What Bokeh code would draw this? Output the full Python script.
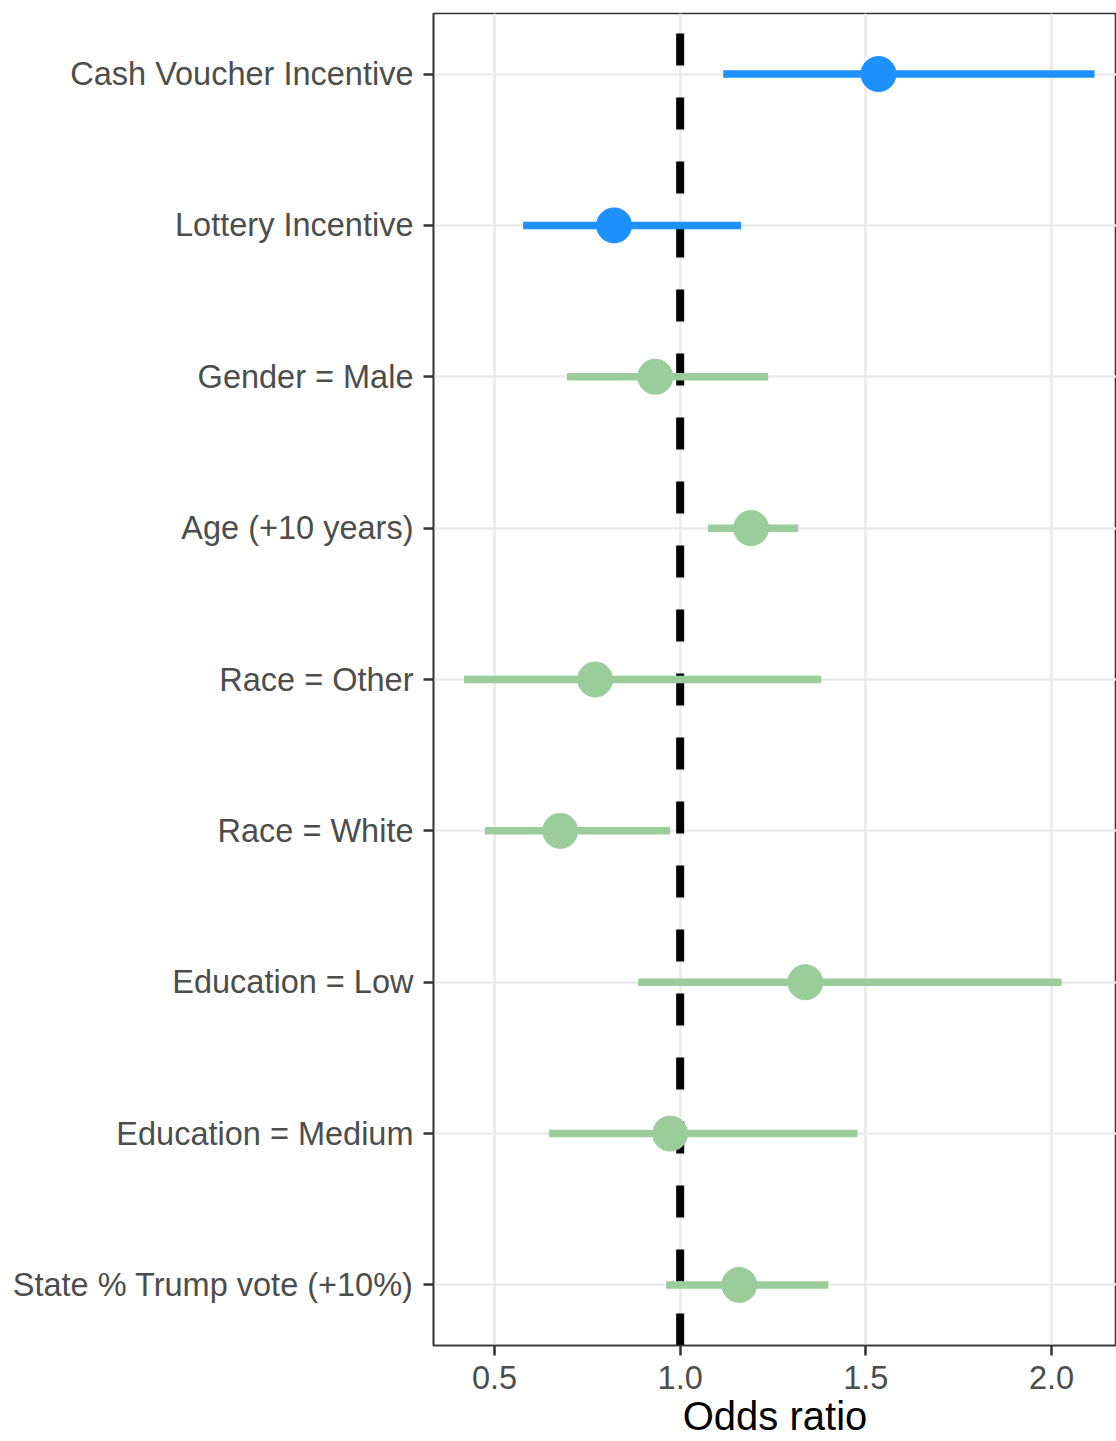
from bokeh.plotting import figure
from bokeh.models import Range1d, FixedTicker, ColumnDataSource
from bokeh.embed import file_html
from bokeh.resources import INLINE

# Data (top to bottom as shown)
terms = ["Cash Voucher Incentive", "Lottery Incentive", "Gender = Male", "Age (+10 years)",
         "Race = Other", "Race = White", "Education = Low", "Education = Medium",
         "State % Trump vote (+10%)"]
odds = [1.534, 0.822, 0.933, 1.191, 0.771, 0.677, 1.337, 0.973, 1.159]
ci_low = [1.116, 0.577, 0.695, 1.075, 0.418, 0.474, 0.887, 0.647, 0.962]
ci_high = [2.116, 1.164, 1.237, 1.318, 1.380, 0.973, 2.027, 1.477, 1.399]
group = ["Incentive", "Incentive", "Covariate", "Covariate", "Covariate", "Covariate",
         "Covariate", "Covariate", "Covariate"]
x_ticks = [0.5, 1.0, 1.5, 2.0]
ref_value = 1.0

colors = {"Incentive": "#1E90FF", "Covariate": "#9BCD9B"}
n = len(terms)
ypos = [n - i for i in range(n)]

src = ColumnDataSource(dict(y=ypos, odds=odds, lo=ci_low, hi=ci_high,
                            color=[colors[g] for g in group]))

y_start, y_end = 0.6, n + 0.4
p = figure(width=1116, height=1441, output_backend="svg", toolbar_location=None,
           x_range=Range1d(0.3357, 2.175), y_range=Range1d(y_start, y_end),
           min_border_left=433, min_border_right=0, min_border_top=13, min_border_bottom=96)

p.background_fill_color = "white"
p.outline_line_color = "#333333"
p.outline_line_width = 1.6

# grids
p.xgrid.ticker = FixedTicker(ticks=x_ticks)
p.ygrid.ticker = FixedTicker(ticks=ypos)
for g in (p.xgrid, p.ygrid):
    g.grid_line_color = "#EBEBEB"
    g.grid_line_width = 2.7

# reference line
p.segment(x0=[ref_value], y0=[y_start], x1=[ref_value], y1=[y_end],
          line_color="black", line_width=8, line_dash="32 32")

# CIs and points
p.segment(x0="lo", y0="y", x1="hi", y1="y", source=src, line_color="color", line_width=7.5)
p.scatter(x="odds", y="y", source=src, size=35, fill_color="color", line_color="color")

# axes
p.xaxis.ticker = FixedTicker(ticks=x_ticks)
p.yaxis.ticker = FixedTicker(ticks=ypos)
p.yaxis.major_label_overrides = {y: t for y, t in zip(ypos, terms)}
p.xaxis.major_label_overrides = {t: f"{t:.1f}" for t in x_ticks}
for ax in (p.xaxis, p.yaxis):
    ax.axis_line_color = "#333333"
    ax.axis_line_width = 1.6
    ax.major_tick_line_color = "#333333"
    ax.major_tick_line_width = 2.5
    ax.major_tick_out = 10
    ax.major_tick_in = 0
    ax.minor_tick_out = 0
    ax.minor_tick_in = 0
    ax.major_label_text_font = "Liberation Sans"
    ax.major_label_text_font_size = "32.5px"
    ax.major_label_text_color = "#4D4D4D"
p.yaxis.major_label_standoff = 10
p.xaxis.major_label_standoff = 10
p.xaxis.axis_label = "Odds ratio"
p.xaxis.axis_label_text_font = "Liberation Sans"
p.xaxis.axis_label_text_font_size = "40px"
p.xaxis.axis_label_text_font_style = "normal"
p.xaxis.axis_label_text_color = "black"
p.xaxis.axis_label_standoff = 2

open("out.html", "w").write(file_html(p, INLINE))
